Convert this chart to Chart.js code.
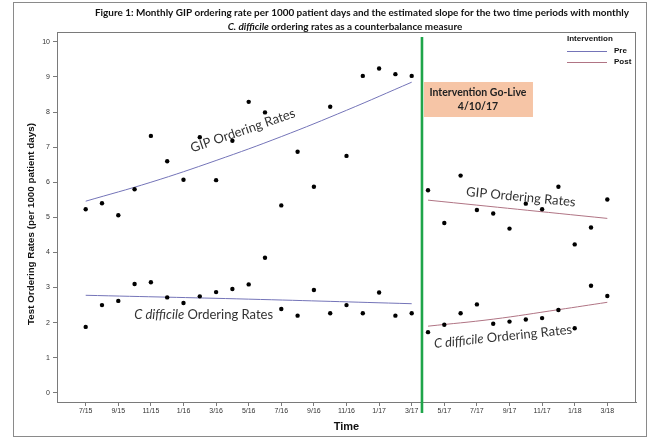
<!DOCTYPE html>
<html>
<head>
<meta charset="utf-8">
<script src="https://cdn.jsdelivr.net/npm/chart.js@4.4.1/dist/chart.umd.min.js"></script>
<style>
  body { margin: 0; background: #fff; }
  canvas { display: block; }
</style>
</head>
<body>
<canvas id="gip-chart" width="649" height="439"></canvas>
<script>
// months on the x axis (index = position on the time scale)
var preMonths = ['7/15','8/15','9/15','10/15','11/15','12/15','1/16','2/16','3/16','4/16','5/16','6/16',
                 '7/16','8/16','9/16','10/16','11/16','12/16','1/17','2/17','3/17'];
var postMonths = ['4/17','5/17','6/17','7/17','8/17','9/17','10/17','11/17','12/17','1/18','2/18','3/18'];
var allMonths = preMonths.concat(postMonths);
var tickLabels = ['7/15','9/15','11/15','1/16','3/16','5/16','7/16','9/16','11/16','1/17','3/17',
                  '5/17','7/17','9/17','11/17','1/18','3/18'];
var yTicks = [0,1,2,3,4,5,6,7,8,9,10];

// monthly rates per 1000 patient days
var preGip   = [5.23,5.40,5.06,5.80,7.32,6.60,6.07,7.28,6.06,7.18,8.29,7.99,5.34,6.87,5.87,8.15,6.75,9.03,9.24,9.08,9.03];
var preCdiff = [1.88,2.50,2.62,3.10,3.15,2.72,2.56,2.75,2.87,2.96,3.09,3.85,2.39,2.20,2.93,2.27,2.50,2.27,2.86,2.20,2.27];
var postGip   = [5.77,4.84,6.19,5.21,5.11,4.68,5.39,5.23,5.87,4.23,4.71,5.51];
var postCdiff = [1.73,1.94,2.27,2.52,1.97,2.03,2.09,2.13,2.36,1.84,3.05,2.76];

// estimated slopes
var preGipFitMonths = ['7/15','11/15','3/16','7/16','11/16','3/17'];
var preGipFit       = [5.46,6.00,6.62,7.30,8.05,8.85];
var preCdiffFitMonths = ['7/15','5/16','3/17'];
var preCdiffFit       = [2.78,2.67,2.54];
var postGipFitMonths = ['4/17','3/18'];
var postGipFit       = [5.49,4.97];
var postCdiffFitMonths = ['4/17','8/17','12/17','3/18'];
var postCdiffFit       = [1.90,2.10,2.37,2.58];

var preColor = '#7474b8';
var postColor = '#b07484';

function toPoints(months, values) {
  return values.map(function (v, i) {
    return { x: allMonths.indexOf(months[i]), y: v };
  });
}

var goLive = 20.63; // position of the go-live line, between 3/17 and 4/17

var labelText = [
  { parts: [['', 'GIP Ordering Rates']], x: 9.64, y: 7.47, angle: -19 },
  { parts: [['italic ', 'C difficile'], ['', ' Ordering Rates']], x: 7.24, y: 2.23, angle: 0 },
  { parts: [['', 'GIP Ordering Rates']], x: 26.7, y: 5.58, angle: 5.5 },
  { parts: [['italic ', 'C difficile'], ['', ' Ordering Rates']], x: 25.6, y: 1.60, angle: -6 }
];

function drawParts(ctx, parts, size, family, cx, cy) {
  var total = 0;
  parts.forEach(function (p) {
    ctx.font = p[0] + size + 'px ' + family;
    total += ctx.measureText(p[1]).width;
  });
  var x = cx - total / 2;
  parts.forEach(function (p) {
    ctx.font = p[0] + size + 'px ' + family;
    ctx.fillText(p[1], x, cy);
    x += ctx.measureText(p[1]).width;
  });
}

var decorPlugin = {
  id: 'decor',
  afterDatasetsDraw: function (chart) {
    var ctx = chart.ctx, xs = chart.scales.x, ys = chart.scales.y, area = chart.chartArea;
    ctx.save();

    // plot frame (top and right)
    ctx.strokeStyle = '#7a7a7a';
    ctx.lineWidth = 1;
    ctx.strokeRect(area.left + 0.5, area.top + 0.5, area.right - area.left - 1, area.bottom - area.top);

    // go-live line
    var gx = xs.getPixelForValue(goLive);
    ctx.strokeStyle = '#1fa54a';
    ctx.lineWidth = 2.6;
    ctx.beginPath();
    ctx.moveTo(gx, area.top + 5);
    ctx.lineTo(gx, area.bottom + 11);
    ctx.stroke();

    // go-live box
    ctx.fillStyle = '#f6c5a6';
    ctx.fillRect(gx + 2, 82, 109, 35);
    ctx.fillStyle = '#222';
    ctx.textAlign = 'center';
    ctx.textBaseline = 'middle';
    ctx.font = 'bold 10.5px Lato';
    ctx.fillText('Intervention Go-Live', gx + 56, 93);
    ctx.fillText('4/10/17', gx + 56, 107);

    // series labels
    ctx.fillStyle = '#333';
    ctx.textAlign = 'left';
    labelText.forEach(function (l) {
      ctx.save();
      ctx.translate(xs.getPixelForValue(l.x), ys.getPixelForValue(l.y));
      ctx.rotate(l.angle * Math.PI / 180);
      drawParts(ctx, l.parts, 13, 'Lato', 0, 0);
      ctx.restore();
    });

    ctx.restore();
  },
  afterDraw: function (chart) {
    var ctx = chart.ctx, area = chart.chartArea;
    ctx.save();

    // outer figure frame
    ctx.strokeStyle = '#8a8a8a';
    ctx.lineWidth = 1;
    ctx.strokeRect(13.5, 2.5, 633, 434);

    // title
    ctx.fillStyle = '#111';
    ctx.textBaseline = 'middle';
    ctx.textAlign = 'left';
    var line1 = 'Figure 1: Monthly GIP ordering rate per 1000 patient days and the estimated slope for the two time periods with monthly';
    ctx.font = 'bold 10px Lato';
    var size = 10 * 535 / ctx.measureText(line1).width;
    drawParts(ctx, [['bold ', line1]], size, 'Lato', 362, 13);
    drawParts(ctx, [['italic bold ', 'C. difficile'], ['bold ', ' ordering rates as a counterbalance measure']], size, 'Lato', 345, 27);

    // axis titles
    ctx.textAlign = 'center';
    ctx.font = 'bold 11px "Liberation Sans"';
    ctx.fillText('Time', (area.left + area.right) / 2, 427);
    ctx.save();
    ctx.translate(31, 224);
    ctx.rotate(-Math.PI / 2);
    ctx.font = 'bold 9.8px "Liberation Sans"';
    ctx.fillText('Test Ordering Rates (per 1000 patient days)', 0, 0);
    ctx.restore();

    // legend
    ctx.textAlign = 'left';
    ctx.font = 'bold 8px "Liberation Sans"';
    ctx.fillText('Intervention', 567, 39);
    ctx.lineWidth = 1;
    ctx.strokeStyle = preColor;
    ctx.beginPath(); ctx.moveTo(567, 51.5); ctx.lineTo(607, 51.5); ctx.stroke();
    ctx.strokeStyle = postColor;
    ctx.beginPath(); ctx.moveTo(567, 62.5); ctx.lineTo(607, 62.5); ctx.stroke();
    ctx.fillText('Pre', 614, 51);
    ctx.fillText('Post', 614, 62);

    ctx.restore();
  }
};

var dotStyle = { showLine: false, pointRadius: 2.2, pointBackgroundColor: '#000', pointBorderWidth: 0 };
var fitStyle = { showLine: true, pointRadius: 0, borderWidth: 1, tension: 0.4 };

var gipChart = new Chart(document.getElementById('gip-chart'), {
  type: 'scatter',
  data: {
    datasets: [
      Object.assign({ label: 'Pre GIP', data: toPoints(preMonths, preGip) }, dotStyle),
      Object.assign({ label: 'Pre C difficile', data: toPoints(preMonths, preCdiff) }, dotStyle),
      Object.assign({ label: 'Post GIP', data: toPoints(postMonths, postGip) }, dotStyle),
      Object.assign({ label: 'Post C difficile', data: toPoints(postMonths, postCdiff) }, dotStyle),
      Object.assign({ label: 'Pre', data: toPoints(preGipFitMonths, preGipFit), borderColor: preColor }, fitStyle),
      Object.assign({ label: 'Pre', data: toPoints(preCdiffFitMonths, preCdiffFit), borderColor: preColor }, fitStyle),
      Object.assign({ label: 'Post', data: toPoints(postGipFitMonths, postGipFit), borderColor: postColor }, fitStyle),
      Object.assign({ label: 'Post', data: toPoints(postCdiffFitMonths, postCdiffFit), borderColor: postColor }, fitStyle)
    ]
  },
  options: {
    responsive: false,
    animation: false,
    devicePixelRatio: 1,
    layout: { padding: { top: 32, right: 13, left: 0, bottom: 0 } },
    plugins: { legend: { display: false }, tooltip: { enabled: false } },
    scales: {
      x: {
        type: 'linear',
        min: -1.76,
        max: 33.76,
        afterFit: function (scale) { scale.height = 37; },
        afterBuildTicks: function (scale) {
          scale.ticks = tickLabels.map(function (t) { return { value: allMonths.indexOf(t) }; });
        },
        ticks: {
          callback: function (v) { return allMonths[v]; },
          font: { family: 'Liberation Sans', size: 7 },
          color: '#333',
          padding: 1,
          maxRotation: 0,
          autoSkip: false
        },
        grid: { drawOnChartArea: false, tickLength: 4, color: '#7a7a7a' },
        border: { color: '#7a7a7a' }
      },
      y: {
        min: -0.26,
        max: 10.28,
        afterFit: function (scale) { scale.width = 57; },
        afterBuildTicks: function (scale) {
          scale.ticks = yTicks.map(function (v) { return { value: v }; });
        },
        ticks: {
          font: { family: 'Liberation Sans', size: 7 },
          color: '#333',
          padding: 3
        },
        grid: { drawOnChartArea: false, tickLength: 4, color: '#7a7a7a' },
        border: { color: '#7a7a7a' }
      }
    }
  },
  plugins: [decorPlugin]
});
</script>
</body>
</html>
